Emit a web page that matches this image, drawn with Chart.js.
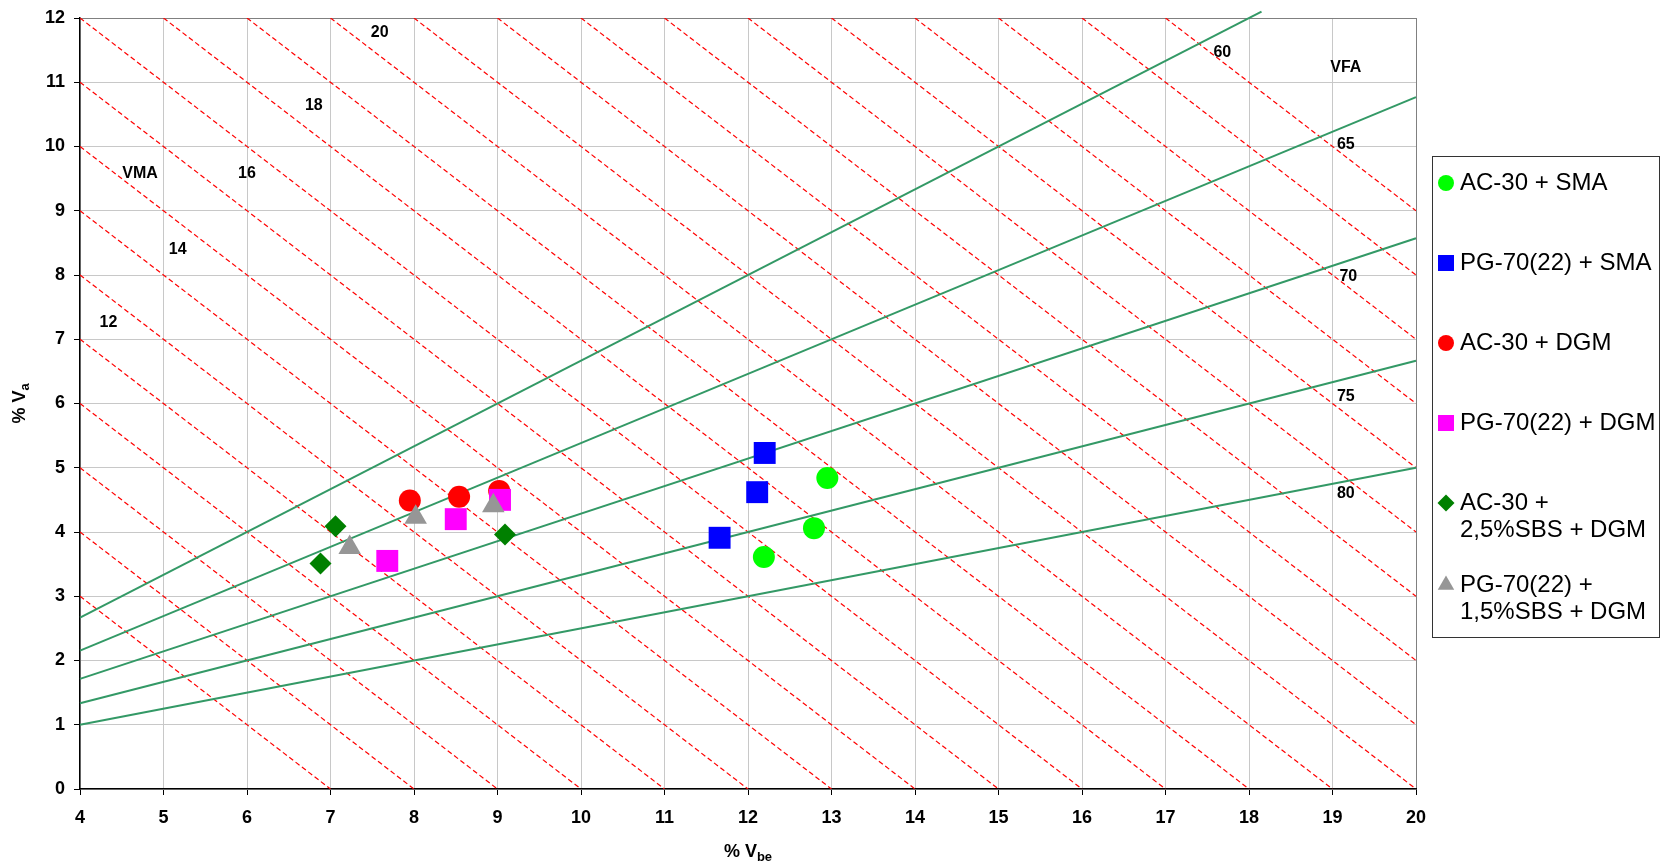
<!DOCTYPE html>
<html><head><meta charset="utf-8">
<script src="https://cdn.jsdelivr.net/npm/chart.js@4.4.1/dist/chart.umd.min.js"></script>
<style>html,body{margin:0;padding:0;background:#fff;}#wrap{width:1664px;height:864px;}</style>
</head><body><div id="wrap"><canvas id="c" width="1664" height="864"></canvas></div>
<script>
// ---- data ----
const seriesNames = ['AC-30 + SMA', 'PG-70(22) + SMA', 'AC-30 + DGM', 'PG-70(22) + DGM', 'AC-30 +\n2,5%SBS + DGM', 'PG-70(22) +\n1,5%SBS + DGM'];
const ac30SmaVbe = [12.95, 12.79, 12.19];
const ac30SmaVa  = [4.84, 4.06, 3.61];
const pg70SmaVbe = [12.20, 12.11, 11.66];
const pg70SmaVa  = [5.23, 4.62, 3.91];
const ac30DgmVbe = [7.95, 8.54, 9.02];
const ac30DgmVa  = [4.49, 4.55, 4.64];
const pg70DgmVbe = [7.68, 8.50, 9.03];
const pg70DgmVa  = [3.55, 4.20, 4.50];
const ac30SbsVbe = [7.06, 6.88, 9.09];
const ac30SbsVa  = [4.09, 3.51, 3.96];
const pg70SbsVbe = [7.23, 8.02, 8.95];
const pg70SbsVa  = [3.76, 4.23, 4.41];

// nomograph reference lines
const vmaLevels = [7, 8, 9, 10, 11, 12, 13, 14, 15, 16, 17, 18, 19, 20, 21, 22, 23, 24, 25, 26, 27, 28, 29];
const vfaLevels = [60, 65, 70, 75, 80];
const vfaEndVbe = [18.15, 20, 20, 20, 20];

// axis ranges / ticks
const xMin = 4, xMax = 20, yMin = 0, yMax = 12;

// annotation texts (placed in data coordinates)
const noteTexts = ['VMA', '12', '14', '16', '18', '20', '60', 'VFA', '65', '70', '75', '80'];
const noteVbe   = [4.72, 4.34, 5.17, 6.00, 6.80, 7.59, 17.68, 19.16, 19.16, 19.19, 19.16, 19.16];
const noteVa    = [9.58, 7.26, 8.40, 9.58, 10.64, 11.77, 11.46, 11.23, 10.03, 7.97, 6.10, 4.60];

// ---- build ----
const toPts = (xs, ys) => xs.map((x, i) => ({x: x, y: ys[i]}));
const markerDefs = [
  {name: seriesNames[0], pts: toPts(ac30SmaVbe, ac30SmaVa), color: '#00ff00', style: 'circle', r: 11, lr: 8, order: 5},
  {name: seriesNames[1], pts: toPts(pg70SmaVbe, pg70SmaVa), color: '#0000ff', style: 'rect', r: 15.5, lr: 11.3, order: 4},
  {name: seriesNames[2], pts: toPts(ac30DgmVbe, ac30DgmVa), color: '#ff0000', style: 'circle', r: 11, lr: 8, order: 3},
  {name: seriesNames[3], pts: toPts(pg70DgmVbe, pg70DgmVa), color: '#ff00ff', style: 'rect', r: 15.5, lr: 11.3, order: 2},
  {name: seriesNames[4], pts: toPts(ac30SbsVbe, ac30SbsVa), color: '#008000', style: 'rectRot', r: 11, lr: 8.5, order: 1},
  {name: seriesNames[5], pts: toPts(pg70SbsVbe, pg70SbsVa), color: '#969696', style: 'triangle', r: 13, lr: 9.5, order: 0}
];

const datasets = [];
markerDefs.forEach(m => datasets.push({
  label: m.name, data: m.pts, showLine: false,
  pointStyle: m.style, pointRadius: m.r, pointHoverRadius: m.r,
  backgroundColor: m.color, borderColor: m.color, borderWidth: 0, order: m.order
}));
vfaLevels.forEach((v, i) => {
  const k = (100 - v) / v;
  datasets.push({
    label: 'VFA ' + v, data: [{x: xMin, y: xMin * k}, {x: vfaEndVbe[i], y: vfaEndVbe[i] * k}],
    showLine: true, pointRadius: 0, borderColor: '#339966', borderWidth: 2, clip: false, order: 6
  });
});
vmaLevels.forEach(c => {
  const x0 = Math.max(xMin, c - yMax), x1 = Math.min(xMax, c);
  datasets.push({
    label: 'VMA ' + c, data: [{x: x0, y: c - x0}, {x: x1, y: c - x1}],
    showLine: true, pointRadius: 0, borderColor: '#ff0000', borderWidth: 1.2, borderDash: [5, 3], order: 7
  });
});

const FONT = "'Liberation Sans', Arial, sans-serif";

const overlay = {
  id: 'overlay',
  afterDatasetsDraw(chart) {
    const ctx = chart.ctx, xs = chart.scales.x, ys = chart.scales.y;
    ctx.save();
    ctx.fillStyle = '#000';
    ctx.font = 'bold 16px ' + FONT;
    ctx.textAlign = 'center';
    ctx.textBaseline = 'middle';
    noteTexts.forEach((t, i) => ctx.fillText(t, xs.getPixelForValue(noteVbe[i]), ys.getPixelForValue(noteVa[i])));
    ctx.restore();
  },
  afterDraw(chart) {
    const ctx = chart.ctx, ca = chart.chartArea;
    ctx.save();
    ctx.fillStyle = '#000';
    // x title: % V_be
    const cx = (ca.left + ca.right) / 2;
    ctx.textBaseline = 'alphabetic';
    ctx.textAlign = 'left';
    ctx.font = 'bold 18px ' + FONT;
    const mainT = '% V';
    const w1 = ctx.measureText(mainT).width;
    ctx.font = 'bold 13px ' + FONT;
    const w2 = ctx.measureText('be').width;
    let sx = cx - (w1 + w2) / 2;
    ctx.font = 'bold 18px ' + FONT;
    ctx.fillText(mainT, sx, 857);
    ctx.font = 'bold 13px ' + FONT;
    ctx.fillText('be', sx + w1, 861);
    // y title: % V_a (rotated)
    ctx.save();
    ctx.translate(25, (ca.top + ca.bottom) / 2);
    ctx.rotate(-Math.PI / 2);
    ctx.font = 'bold 18px ' + FONT;
    const w3 = ctx.measureText(mainT).width;
    ctx.font = 'bold 13px ' + FONT;
    const w4 = ctx.measureText('a').width;
    sx = -(w3 + w4) / 2;
    ctx.font = 'bold 18px ' + FONT;
    ctx.fillText(mainT, sx, 0);
    ctx.font = 'bold 13px ' + FONT;
    ctx.fillText('a', sx + w3, 4);
    ctx.restore();

    // legend
    const L = 1432, T = 156, R = 1659, B = 637;
    ctx.strokeStyle = '#333';
    ctx.lineWidth = 1;
    ctx.strokeRect(L + 0.5, T + 0.5, R - L, B - T);
    const rowY = [183, 263, 343, 423, 503, 585];
    ctx.font = '24px ' + FONT;
    ctx.textBaseline = 'middle';
    ctx.textAlign = 'left';
    markerDefs.forEach((m, i) => {
      ctx.fillStyle = m.color;
      Chart.helpers.drawPoint(ctx, {pointStyle: m.style, radius: m.lr, rotation: 0, borderWidth: 0}, 1446, rowY[i]);
      ctx.fillStyle = '#000';
      m.name.split('\n').forEach((line, j) => ctx.fillText(line, 1460, rowY[i] + j * 27));
    });
    ctx.restore();
  }
};

const tickFont = {family: FONT, size: 18, weight: 'bold', lineHeight: 1};
new Chart(document.getElementById('c'), {
  type: 'scatter',
  data: {datasets: datasets},
  options: {
    responsive: false, animation: false, devicePixelRatio: 1,
    layout: {padding: {left: 0, top: 16, right: 248, bottom: 0}},
    plugins: {legend: {display: false}, tooltip: {enabled: false}},
    scales: {
      x: {
        type: 'linear', min: xMin, max: xMax,
        ticks: {stepSize: 1, font: tickFont, color: '#000', padding: 14},
        grid: {color: c => (c.tick && c.tick.value === xMax) ? '#808080' : '#c8c8c8', tickColor: '#000', tickLength: 6, lineWidth: 1},
        border: {color: '#000', width: 1.5},
        afterFit: s => { s.height = 864 - 789; }
      },
      y: {
        type: 'linear', min: yMin, max: yMax,
        ticks: {stepSize: 1, font: tickFont, color: '#000', padding: 9},
        grid: {color: c => (c.tick && c.tick.value === yMax) ? '#808080' : '#c8c8c8', tickColor: '#000', tickLength: 6, lineWidth: 1},
        border: {color: '#000', width: 1.5},
        afterFit: s => { s.width = 80; }
      }
    }
  },
  plugins: [overlay]
});
</script>
</body></html>
